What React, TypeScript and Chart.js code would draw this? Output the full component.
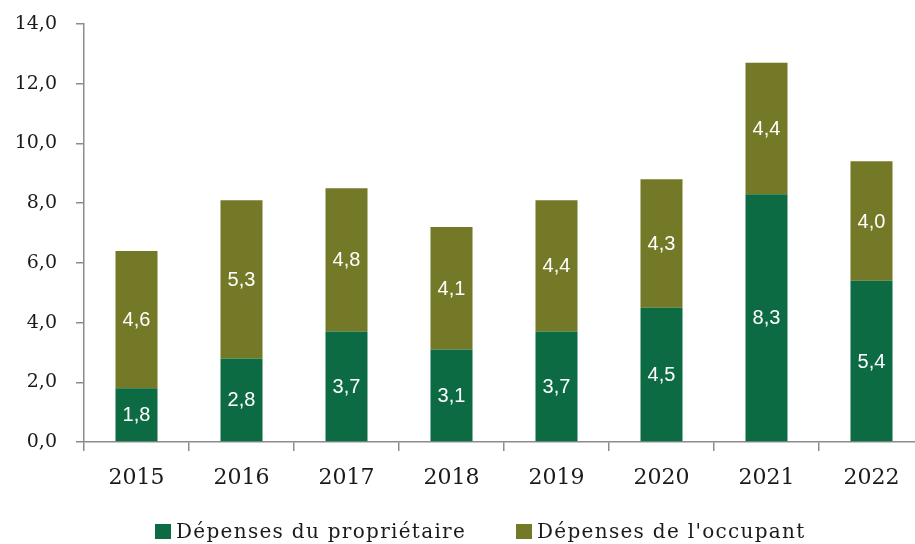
import React, { useEffect, useRef } from "react";
import { Chart, registerables } from "chart.js";

Chart.register(...registerables);

const years = ["2015", "2016", "2017", "2018", "2019", "2020", "2021", "2022"];
const ownerValues = [1.8, 2.8, 3.7, 3.1, 3.7, 4.5, 8.3, 5.4];
const occupantValues = [4.6, 5.3, 4.8, 4.1, 4.4, 4.3, 4.4, 4.0];
const seriesNames = ["Dépenses du propriétaire", "Dépenses de l'occupant"];
const yTicks = [0, 2, 4, 6, 8, 10, 12, 14];

const GREEN = "rgb(13,107,68)";
const OLIVE = "rgb(115,121,38)";
const AXIS = "#8c8c8c";
const TEXT = "#1a1a1a";
const SERIF = '"DejaVu Serif", serif';
const seriesColors = [GREEN, OLIVE];

const fmt = (v: number) => v.toFixed(1).replace(".", ",");

const labelPlugin = {
  id: "barLabels",
  afterDatasetsDraw(chart: any) {
    const ctx = chart.ctx;
    ctx.save();
    ctx.fillStyle = "#ffffff";
    ctx.font = '20px "Liberation Sans", Arial, sans-serif';
    ctx.textAlign = "center";
    ctx.textBaseline = "middle";
    chart.data.datasets.forEach((ds: any, di: number) => {
      const meta = chart.getDatasetMeta(di);
      meta.data.forEach((el: any, i: number) => {
        const v = ds.data[i];
        const cy = (el.y + el.base) / 2;
        ctx.fillText(fmt(v), el.x, cy + 1);
      });
    });
    ctx.restore();
  },
};

export default function App() {
  const ref = useRef<HTMLCanvasElement | null>(null);
  useEffect(() => {
    if (!ref.current) return;
    const chart = new Chart(ref.current, {
      type: "bar",
      data: {
        labels: years,
        datasets: [
          {
            label: seriesNames[0],
            data: ownerValues,
            backgroundColor: GREEN,
            barPercentage: 0.4,
            categoryPercentage: 1,
          },
          {
            label: seriesNames[1],
            data: occupantValues,
            backgroundColor: OLIVE,
            barPercentage: 0.4,
            categoryPercentage: 1,
          },
        ],
      },
      options: {
        animation: false,
        responsive: false,
        maintainAspectRatio: false,
        layout: { padding: { top: 24, left: 0, right: 0, bottom: 0 } },
        plugins: {
          legend: { display: false },
          tooltip: { enabled: false },
        },
        scales: {
          x: {
            stacked: true,
            grid: {
              display: true,
              drawOnChartArea: false,
              drawTicks: true,
              tickLength: 9,
              color: AXIS,
              lineWidth: 1.5,
              offset: true,
            },
            border: { display: true, color: AXIS, width: 1.5 },
            ticks: {
              color: TEXT,
              font: { family: SERIF, size: 22 },
              padding: 14,
              maxRotation: 0,
            },
            afterFit(scale: any) {
              scale.height = 102;
              scale.paddingLeft = 0;
              scale.paddingRight = 0;
            },
          },
          y: {
            stacked: true,
            min: 0,
            max: 14,
            afterBuildTicks(scale: any) {
              scale.ticks = yTicks.map((v) => ({ value: v }));
            },
            grid: {
              display: true,
              drawOnChartArea: false,
              drawTicks: true,
              tickLength: 8,
              color: AXIS,
              lineWidth: 1.5,
            },
            border: { display: true, color: AXIS, width: 1.5 },
            ticks: {
              color: TEXT,
              font: { family: SERIF, size: 19 },
              padding: 19,
              callback: (v: any) => fmt(Number(v)),
            },
            afterFit(scale: any) {
              scale.width = 84;
              scale.paddingTop = 0;
              scale.paddingBottom = 0;
            },
          },
        },
      },
      plugins: [labelPlugin],
    });
    return () => chart.destroy();
  }, []);

  const legendItem = (i: number, left: number) => (
    <div
      key={i}
      style={{
        position: "absolute",
        left,
        top: 519,
        height: 24,
        display: "flex",
        alignItems: "center",
        whiteSpace: "nowrap",
      }}
    >
      <span
        style={{
          display: "inline-block",
          width: 16,
          height: 15,
          background: seriesColors[i],
          marginRight: 5,
        }}
      />
      <span
        style={{
          fontFamily: SERIF,
          fontSize: 20,
          letterSpacing: "1.3px",
          color: TEXT,
          lineHeight: "24px",
        }}
      >
        {seriesNames[i]}
      </span>
    </div>
  );

  return (
    <div
      style={{
        position: "absolute",
        left: 0,
        top: 0,
        width: 915,
        height: 544,
        overflow: "hidden",
        background: "#ffffff",
      }}
    >
      <canvas ref={ref} width={924} height={544} style={{ display: "block", width: 924, height: 544 }} />
      {legendItem(0, 155)}
      {legendItem(1, 516)}
    </div>
  );
}
